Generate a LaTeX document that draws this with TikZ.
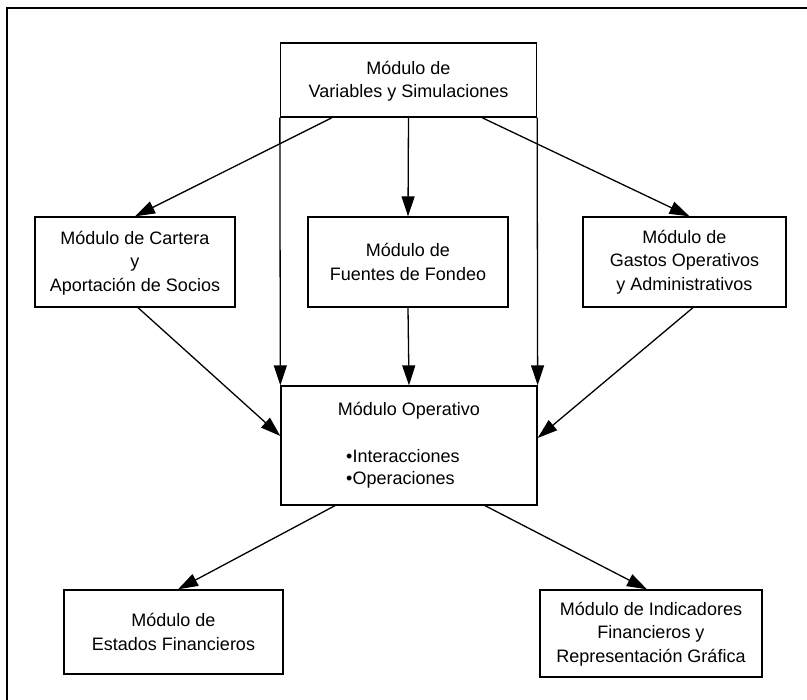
\documentclass[tikz,border=0pt]{standalone}
\usepackage{fontspec}
\setmainfont{Liberation Sans}
\usetikzlibrary{arrows.meta}
\begin{document}
\begin{tikzpicture}[x=1pt,y=-1pt,
  box/.style={draw,line width=1.3pt,inner sep=0pt},
  txt/.style={align=center,font=\fontsize{18}{23.5}\selectfont,inner sep=0pt},
  arr/.style={line width=1.3pt,-{Triangle[length=20pt,width=13pt]}},
  ln/.style={line width=1.3pt}]
\useasboundingbox (0,0) rectangle (807,700);
% outer frame (top and left edges)
\coordinate (fa) at (807,8);
\coordinate (fb) at (7,8);
\coordinate (fc) at (7,700);
\draw[ln] (fa) -- (fb) -- (fc);
% boxes
\node[box,minimum width=256pt,minimum height=74pt] (top) at (408.5,80) {};
\node[txt] (toptxt) at (408.5,81) {Módulo de\\Variables y Simulaciones};
\node[box,minimum width=200pt,minimum height=90pt] (cartera) at (135,262) {};
\node[txt] (cartxt) at (135,263) {Módulo de Cartera\\y\\Aportación de Socios};
\node[box,minimum width=200pt,minimum height=90pt] (fuentes) at (408,262) {};
\node[txt] (fuetxt) at (408,262) {Módulo de\\Fuentes de Fondeo};
\node[box,minimum width=203pt,minimum height=90pt] (gastos) at (684.5,262) {};
\node[txt] (gastxt) at (684.5,262) {Módulo de\\Gastos Operativos\\y Administrativos};
\node[box,minimum width=256pt,minimum height=119pt] (oper) at (409,445.5) {};
\node[txt] (opertit) at (409,411) {Módulo Operativo};
\node[txt,anchor=west] (operb1) at (346,456) {•Interacciones};
\node[txt,anchor=west] (operb2) at (346,480) {•Operaciones};
\node[box,minimum width=219pt,minimum height=84pt] (estados) at (173.5,632) {};
\node[txt] (esttxt) at (173.5,632) {Módulo de\\Estados Financieros};
\node[box,minimum width=222pt,minimum height=87pt] (indic) at (651,633.5) {};
\node[txt] (indtxt) at (651,634) {Módulo de Indicadores\\Financieros y\\Representación Gráfica};
% connectors
\draw[arr] (top.south) -- (fuentes.north);
\draw[arr] ([xshift=-76.5pt]top.south) -- (cartera.north);
\draw[arr] ([xshift=73.5pt]top.south) -- ([xshift=5pt]gastos.north);
\draw[arr] (top.south west) -- (oper.north west);
\draw[arr] (top.south east) -- (oper.north east);
\draw[arr] (fuentes.south) -- (oper.north);
\draw[arr] ([xshift=3pt]cartera.south) -- ([yshift=9.5pt]oper.west);
\draw[arr] ([xshift=8.5pt]gastos.south) -- ([yshift=7.5pt]oper.east);
\draw[arr] ([xshift=-74pt]oper.south) -- ([xshift=4.5pt]estados.north);
\draw[arr] ([xshift=76pt]oper.south) -- ([xshift=-4pt]indic.north);
\end{tikzpicture}
\end{document}
